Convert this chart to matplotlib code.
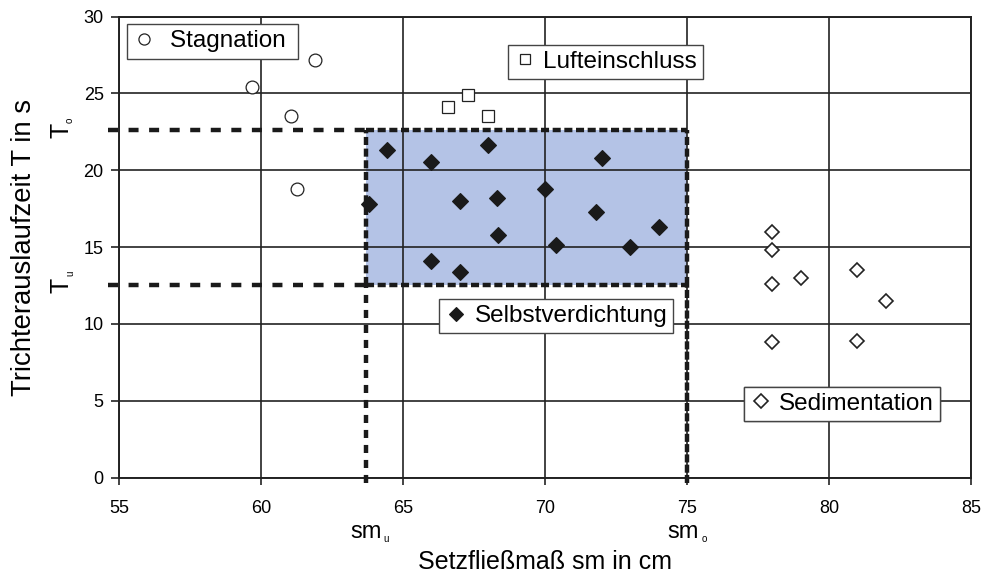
import matplotlib
matplotlib.use("Agg")
import matplotlib.pyplot as plt
from matplotlib.lines import Line2D

plt.rcParams['font.family'] = ['Liberation Sans', 'DejaVu Sans']
plt.rcParams['lines.scale_dashes'] = False

# Messwerte: Setzfließmaß sm (cm) / Trichterauslaufzeit T (s)
stag_sm = [59.7, 61.05, 61.9, 61.25]
stag_t = [25.4, 23.5, 27.2, 18.8]

luft_sm = [66.6, 67.3, 68.0]
luft_t = [24.1, 24.9, 23.5]

selbst_sm = [64.45, 66.0, 68.0, 72.0, 63.8, 67.0, 68.3, 70.0, 71.8, 74.0,
             68.35, 70.4, 73.0, 66.0, 67.0]
selbst_t = [21.3, 20.55, 21.65, 20.8, 17.8, 18.0, 18.2, 18.8, 17.25, 16.3,
            15.8, 15.1, 15.0, 14.1, 13.4]

sed_sm = [78.0, 78.0, 78.0, 79.0, 81.0, 82.0, 78.0, 81.0]
sed_t = [16.0, 14.8, 12.6, 13.0, 13.5, 11.5, 8.8, 8.9]

# Grenzwerte
sm_u, sm_o = 63.7, 75.0
T_u, T_o = 12.5, 22.6

x_ticks = [55, 60, 65, 70, 75, 80, 85]
y_ticks = [0, 5, 10, 15, 20, 25, 30]

fig = plt.figure(figsize=(9.83, 5.76), dpi=100)
ax = fig.add_axes([119 / 983, 1 - 477.5 / 576, 852 / 983, 461 / 576])

ax.set_xlim(55, 85)
ax.set_ylim(0, 30)
ax.set_xticks(x_ticks)
ax.set_yticks(y_ticks)
ax.tick_params(axis='both', labelsize=13, direction='out', color='#222',
               width=1.2)
ax.tick_params(axis='x', length=5, pad=11.5)
ax.tick_params(axis='y', length=6, pad=5)
ax.set_axisbelow(True)
ax.grid(True, color='#222', linewidth=1.2)
for s in ax.spines.values():
    s.set_color('#222')
    s.set_linewidth(1.4)

# Bereich der Selbstverdichtung
ax.fill_between([sm_u, sm_o], T_u, T_o, color='#B4C3E6', zorder=0.2, lw=0)
box_kw = dict(color='#1a1a1a', lw=3.2, dashes=(5.8, 2.6), zorder=3)
ax.plot([sm_u, sm_o], [T_o, T_o], **box_kw)
ax.plot([sm_u, sm_o], [T_u, T_u], **box_kw)
ax.plot([sm_u, sm_u], [T_u, T_o], **box_kw)
ax.plot([sm_o, sm_o], [T_u, T_o], **box_kw)

# Verlängerungen zu den Achsen
ext_kw = dict(color='#1a1a1a', lw=3.2, zorder=3, clip_on=False)
ax.plot([54.6, sm_u], [T_o, T_o], dashes=(7.2, 7.6), **ext_kw)
ax.plot([54.6, sm_u], [T_u, T_u], dashes=(7.2, 7.6), **ext_kw)
ax.plot([sm_u, sm_u], [-0.35, T_u], dashes=(5.8, 5.0), **ext_kw)
ax.plot([sm_o, sm_o], [-0.35, T_u], dashes=(5.8, 1.6), **ext_kw)

# Messpunkte
st_kw = dict(ls='none', marker='o', ms=9.2, mfc='white', mec='#222', mew=0.9)
lu_kw = dict(ls='none', marker='s', ms=8, mfc='white', mec='#222', mew=0.9)
se_kw = dict(ls='none', marker='D', ms=8.3, mfc='#1a1a1a', mec='#1a1a1a', mew=0.8)
sd_kw = dict(ls='none', marker='D', ms=7.4, mfc='white', mec='#222', mew=1.2)

ax.plot(stag_sm, stag_t, zorder=4, **st_kw)
ax.plot(luft_sm, luft_t, zorder=4, **lu_kw)
ax.plot(selbst_sm, selbst_t, zorder=4, **se_kw)
ax.plot(sed_sm, sed_t, zorder=4, **sd_kw)

# Einzelne Beschriftungskästen
def label_box(kw, text, anchor, ms=None, tpad=0.3):
    kw = dict(kw)
    if ms:
        kw['ms'] = ms
    h = Line2D([], [], **kw)
    leg = ax.legend([h], [text], loc='upper left', bbox_to_anchor=anchor,
                    borderaxespad=0, fontsize=17.5, frameon=True, fancybox=False,
                    framealpha=1, edgecolor='#444', handlelength=0.9,
                    handletextpad=tpad, borderpad=0.25)
    leg.get_frame().set_linewidth(1.0)
    leg.set_zorder(6)
    ax.add_artist(leg)

label_box(st_kw, 'Stagnation ', (0.009, 0.983), ms=8, tpad=0.62)
label_box(lu_kw, 'Lufteinschluss', (0.456, 0.939), ms=7.5)
label_box(se_kw, 'Selbstverdichtung', (0.376, 0.3866), ms=7.5)
label_box(sd_kw, 'Sedimentation', (0.733, 0.197), ms=7)

ax.set_xlabel('Setzfließmaß sm in cm', fontsize=18)
ax.xaxis.set_label_coords(0.5, -0.158)
ax.set_ylabel('Trichterauslaufzeit T in s', fontsize=19.8)
ax.yaxis.set_label_coords(-0.096, 0.5)

# Grenzwert-Beschriftungen
for xv, sub, dx, sdx in [(sm_u, 'u', 0, 12.2), (sm_o, 'o', -2.5, 10.8)]:
    ax.annotate('sm', xy=(xv, 0), xycoords=('data', 'axes fraction'),
                xytext=(dx, -43.5), textcoords='offset points',
                ha='center', va='baseline', fontsize=17)
    ax.annotate(sub, xy=(xv, 0), xycoords=('data', 'axes fraction'),
                xytext=(sdx, -46.5), textcoords='offset points',
                ha='left', va='baseline', fontsize=7)

for yv, sub, sdy in [(T_o, 'o', 7.2), (T_u, 'u', 8.5)]:
    ax.annotate('T', xy=(0, yv), xycoords=('axes fraction', 'data'),
                xytext=(-36.5, 0), textcoords='offset points',
                ha='center', va='baseline', rotation=90,
                rotation_mode='anchor', fontsize=18)
    ax.annotate(sub, xy=(0, yv), xycoords=('axes fraction', 'data'),
                xytext=(-33.1, sdy), textcoords='offset points',
                ha='center', va='baseline', rotation=90,
                rotation_mode='anchor', fontsize=7)

fig.savefig('out.png', dpi=100)
plt.close(fig)
